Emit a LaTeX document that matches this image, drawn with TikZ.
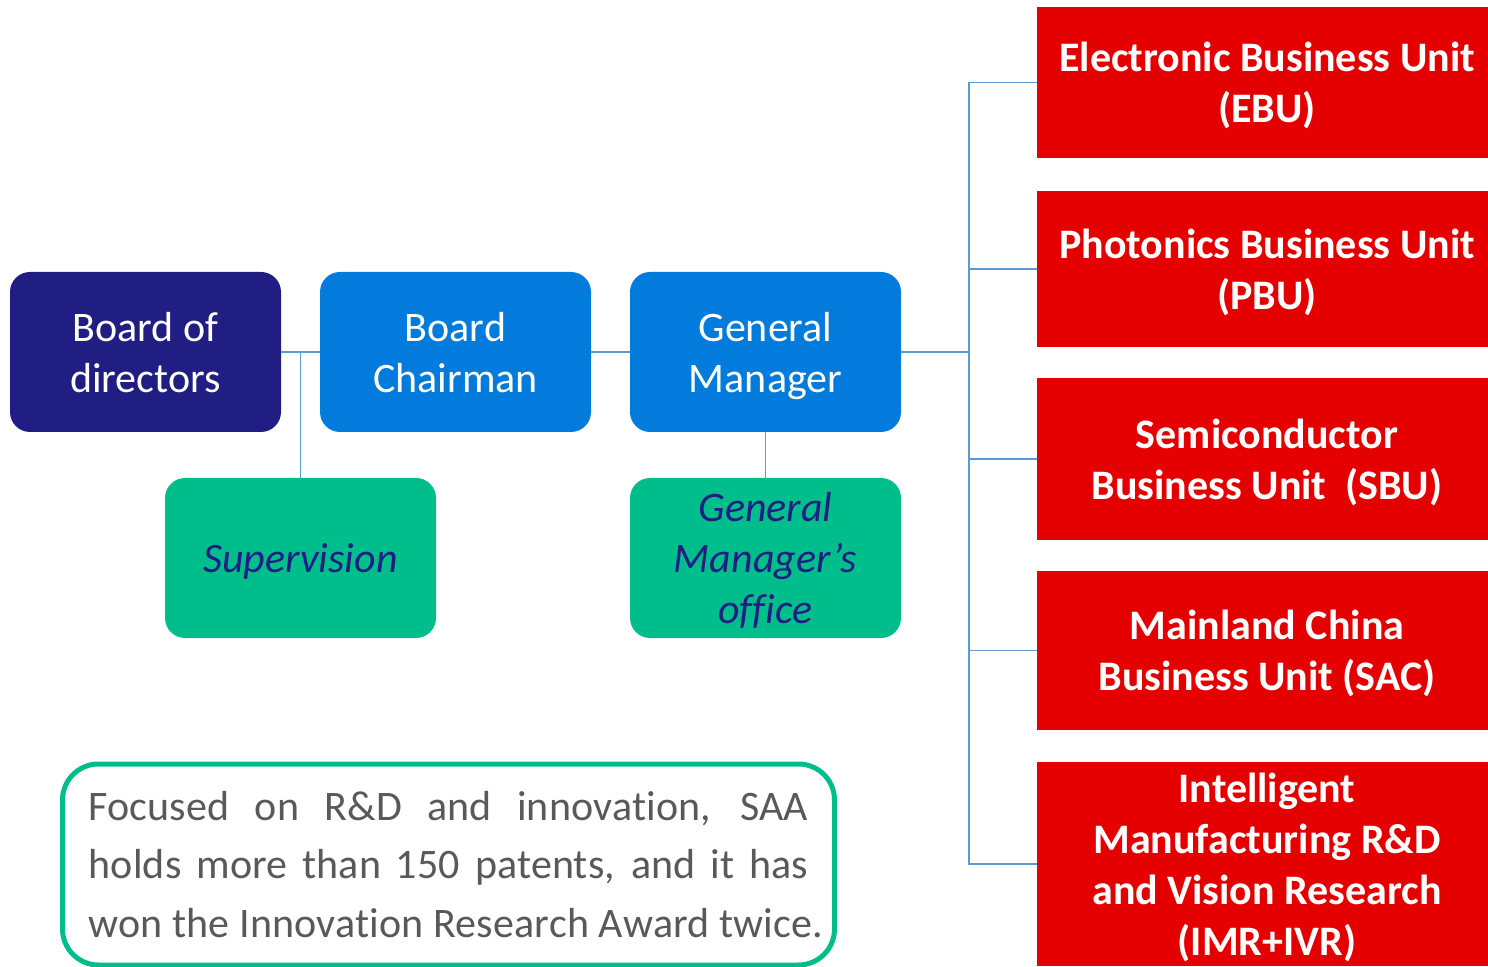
\documentclass[tikz,border=0pt]{standalone}
\usepackage{fontspec}
\setmainfont{Carlito}[Ligatures=NoCommon]
\usepackage{xcolor}
\usepackage{tikz}
\definecolor{navy}{HTML}{201E82}
\definecolor{azure}{HTML}{037BDC}
\definecolor{mint}{HTML}{00BE8C}
\definecolor{scarlet}{HTML}{E40000}
\definecolor{wire}{HTML}{5B9BD5}
\definecolor{ink}{HTML}{595959}
\tikzset{
  topbox/.style={rounded corners=10pt, minimum width=135.5pt, minimum height=80pt,
    align=center, text=white, text depth=0pt, font=\fontsize{21}{25.5}\selectfont},
  subbox/.style={topbox, fill=mint, text=navy, font=\fontsize{21}{25.5}\selectfont\itshape},
  unitbox/.style={fill=scarlet, minimum width=230pt, align=center, text=white,
    text depth=0pt, font=\fontsize{21}{25.5}\selectfont\bfseries},
  link/.style={draw=wire, line width=0.75pt},
  notebox/.style={draw=mint, line width=2.5pt, rounded corners=18pt, fill=white,
    text width=360pt, inner xsep=13pt, minimum height=100.5pt, align=justify,
    text=ink, font=\fontsize{21}{29.25}\selectfont\addfontfeatures{LetterSpace=0.45}},
}

\begin{document}
\begin{tikzpicture}[x=0.5pt, y=-0.5pt]
  \useasboundingbox (0,0) rectangle (1488,967);

  % chain of command
  \node[topbox, fill=navy] (board) at (145.5,352) {Board of\\directors};
  \node[topbox, fill=azure] (chair) at (455.5,352) {Board\\Chairman};
  \node[topbox, fill=azure] (gm) at (765.5,352) {General\\Manager};
  \node[subbox] (sup) at (300.5,558) {Supervision};
  \node[subbox] (gmo) at (765.5,558) {General\\Manager’s\\office};

  % business units
  \node[unitbox, minimum height=75.5pt] (ebu) at (1267,82.5) {Electronic Business Unit\\(EBU)};
  \node[unitbox, minimum height=78pt] (pbu) at (1267,269) {Photonics Business Unit\\(PBU)};
  \node[unitbox, minimum height=81pt] (sbu) at (1267,459) {Semiconductor\\Business Unit\ \ (SBU)};
  \node[unitbox, minimum height=79.5pt] (sac) at (1267,650.5) {Mainland China\\Business Unit (SAC)};
  \node[unitbox, minimum height=102pt] (imr) at (1267,864) {Intelligent\\Manufacturing R\&D\\and Vision Research\\(IMR+IVR)};

  \draw[link] (board.east) -- (chair.west);
  \draw[link] (sup.north) -- (sup.north |- board.east);
  \draw[link] (chair.east) -- (gm.west);
  \draw[link] (gm.south) -- (gmo.north);
  \coordinate (bus) at (969,352);
  \draw[link] (gm.east) -- (bus);
  \foreach \u in {ebu,pbu,sbu,sac,imr}
    \draw[link] (\u.west) -| (bus);

  % note
  \node[notebox] (note) at (448.5,864.5) {Focused on R\&D and innovation, SAA\linebreak
    holds more than 150 patents, and it has\linebreak
    \hbox to\linewidth{won the Innovation Research Award twice.\hss}};
\end{tikzpicture}
\end{document}
